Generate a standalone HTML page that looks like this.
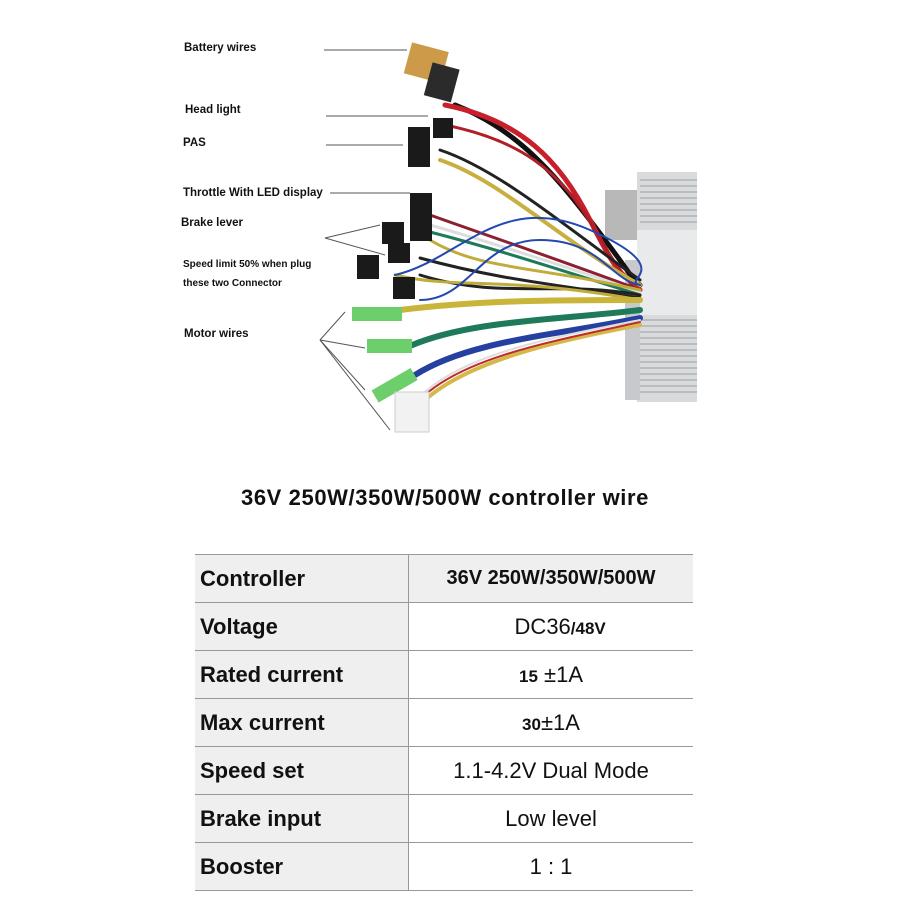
<!DOCTYPE html>
<html><head><meta charset="utf-8"><style>
body{margin:0;background:#fff;width:912px;height:924px;position:relative;overflow:hidden;font-family:"Liberation Sans",sans-serif}
.lb{position:absolute;font-weight:bold;font-size:11.5px;color:#111;white-space:nowrap}
.title{position:absolute;left:0;width:890px;text-align:center;top:485px;font-size:22px;letter-spacing:0.6px;font-weight:bold;color:#111}
table{position:absolute;left:195px;top:554px;border-collapse:collapse;width:498px}
td{height:47px;border-top:1.5px solid #999;border-bottom:1.5px solid #999;font-size:22px;padding:0;color:#111}
td.l{background:#efefef;font-weight:bold;width:208px;padding-left:5px;border-right:1.5px solid #999}
td.r{text-align:center}
</style></head><body>
<svg width="912" height="460" style="position:absolute;left:0;top:0">
<g stroke="#555" stroke-width="1" fill="none">
<line x1="324" y1="50" x2="407" y2="50"/>
<line x1="326" y1="116" x2="428" y2="116"/>
<line x1="326" y1="145" x2="403" y2="145"/>
<line x1="330" y1="193" x2="410" y2="193"/>
<line x1="325" y1="238" x2="380" y2="225"/><line x1="325" y1="238" x2="385" y2="255"/>
<line x1="320" y1="340" x2="345" y2="312"/><line x1="320" y1="340" x2="365" y2="348"/><line x1="320" y1="340" x2="365" y2="390"/><line x1="320" y1="340" x2="390" y2="430"/>
</g>
<rect x="605" y="190" width="35" height="50" fill="#b8b8b8"/>
<rect x="637" y="172" width="60" height="230" fill="#d8dadc"/>
<g stroke="#a9acb0" stroke-width="1.2">
<line x1="640" y1="180" x2="697" y2="180"/><line x1="640" y1="186" x2="697" y2="186"/><line x1="640" y1="192" x2="697" y2="192"/><line x1="640" y1="198" x2="697" y2="198"/><line x1="640" y1="204" x2="697" y2="204"/><line x1="640" y1="210" x2="697" y2="210"/><line x1="640" y1="216" x2="697" y2="216"/><line x1="640" y1="222" x2="697" y2="222"/>
<line x1="640" y1="320" x2="697" y2="320"/><line x1="640" y1="326" x2="697" y2="326"/><line x1="640" y1="332" x2="697" y2="332"/><line x1="640" y1="338" x2="697" y2="338"/><line x1="640" y1="344" x2="697" y2="344"/><line x1="640" y1="350" x2="697" y2="350"/><line x1="640" y1="356" x2="697" y2="356"/><line x1="640" y1="362" x2="697" y2="362"/><line x1="640" y1="368" x2="697" y2="368"/><line x1="640" y1="374" x2="697" y2="374"/><line x1="640" y1="380" x2="697" y2="380"/><line x1="640" y1="386" x2="697" y2="386"/><line x1="640" y1="392" x2="697" y2="392"/>
</g>
<rect x="637" y="230" width="60" height="85" fill="#e8eaec"/>
<rect x="625" y="260" width="15" height="140" fill="#c7c9cc"/>
<g fill="none" stroke-linecap="round">
<path d="M455 105 C520 130 560 180 605 240 S630 280 640 285" stroke="#111" stroke-width="5"/>
<path d="M445 105 C520 120 560 160 590 220 S620 270 640 290" stroke="#c8202a" stroke-width="5"/>
<path d="M445 125 C520 140 560 170 595 230 S625 270 640 300" stroke="#b01e28" stroke-width="3"/>
<path d="M440 160 C500 180 560 240 640 285" stroke="#c8b040" stroke-width="4"/>
<path d="M440 150 C500 170 570 230 640 280" stroke="#222" stroke-width="3"/>
<path d="M430 215 C500 240 560 260 640 290" stroke="#8a2030" stroke-width="3"/>
<path d="M430 225 C500 245 560 265 640 292" stroke="#ddd" stroke-width="3"/>
<path d="M430 232 C500 250 560 270 640 295" stroke="#1f7a5a" stroke-width="3"/>
<path d="M430 240 C480 270 530 265 640 290" stroke="#c0ac3a" stroke-width="3"/>
<path d="M420 258 C500 280 560 285 640 298" stroke="#222" stroke-width="3"/>
<path d="M420 275 C500 300 560 280 640 295" stroke="#222" stroke-width="3"/>
<path d="M395 275 C460 290 500 275 640 300" stroke="#c0ac3a" stroke-width="3"/>
<path d="M395 275 C460 260 500 190 590 230 S620 280 640 285" stroke="#2348b0" stroke-width="2"/>
<path d="M420 300 C470 300 480 240 540 240 S610 280 640 285" stroke="#2348b0" stroke-width="2"/>
<path d="M400 310 C480 300 560 300 640 300" stroke="#c9b53a" stroke-width="6"/>
<path d="M410 346 C470 320 560 320 640 310" stroke="#1f7a5a" stroke-width="6"/>
<path d="M415 375 C470 340 560 335 640 318" stroke="#2540a0" stroke-width="6"/>
<path d="M425 400 C470 360 560 340 640 325" stroke="#d4b84a" stroke-width="4"/>
<path d="M425 395 C470 355 560 340 640 322" stroke="#c02a2a" stroke-width="2"/>
<path d="M425 392 C470 352 560 336 640 320" stroke="#ddd" stroke-width="2"/>
</g>
<g transform="rotate(15 430 72)"><rect x="405" y="48" width="38" height="32" fill="#cc9a48"/><rect x="430" y="62" width="28" height="34" fill="#2b2b2b"/></g>
<rect x="433" y="118" width="20" height="20" fill="#1a1a1a"/>
<rect x="408" y="127" width="22" height="40" fill="#1a1a1a"/>
<rect x="410" y="193" width="22" height="48" fill="#1a1a1a"/>
<rect x="382" y="222" width="22" height="22" fill="#1a1a1a"/>
<rect x="388" y="243" width="22" height="20" fill="#1a1a1a"/>
<rect x="357" y="255" width="22" height="24" fill="#1a1a1a"/>
<rect x="393" y="277" width="22" height="22" fill="#1a1a1a"/>
<rect x="352" y="307" width="50" height="14" fill="#6ccf6c"/>
<rect x="367" y="339" width="45" height="14" fill="#6ccf6c"/>
<rect x="372" y="378" width="45" height="14" fill="#6ccf6c" transform="rotate(-30 395 385)"/>
<rect x="395" y="392" width="34" height="40" fill="#f2f2f2" stroke="#ccc"/>
</svg>
<div class="lb" style="left:184px;top:42px">Battery wires</div>
<div class="lb" style="left:185px;top:104px">Head light</div>
<div class="lb" style="left:183px;top:137px">PAS</div>
<div class="lb" style="left:183px;top:187px">Throttle With LED display</div>
<div class="lb" style="left:181px;top:217px">Brake lever</div>
<div class="lb" style="left:183px;top:259px;font-size:10px">Speed limit 50% when plug</div>
<div class="lb" style="left:183px;top:278px;font-size:10px">these two Connector</div>
<div class="lb" style="left:184px;top:328px">Motor wires</div>
<div class="title">36V 250W/350W/500W controller wire</div>
<table>
<tr><td class="l">Controller</td><td class="r" style="background:#efefef;font-weight:bold;font-size:20px">36V 250W/350W/500W</td></tr>
<tr><td class="l">Voltage</td><td class="r">&nbsp;&nbsp;&nbsp;DC36<b style="font-size:17px">/48V</b></td></tr>
<tr><td class="l">Rated current</td><td class="r"><b style="font-size:17px">15</b> ±1A</td></tr>
<tr><td class="l">Max current</td><td class="r"><b style="font-size:17px">30</b>±1A</td></tr>
<tr><td class="l">Speed set</td><td class="r">1.1-4.2V Dual Mode</td></tr>
<tr><td class="l">Brake input</td><td class="r">Low level</td></tr>
<tr><td class="l">Booster</td><td class="r">1 : 1</td></tr>
</table>
</body></html>
